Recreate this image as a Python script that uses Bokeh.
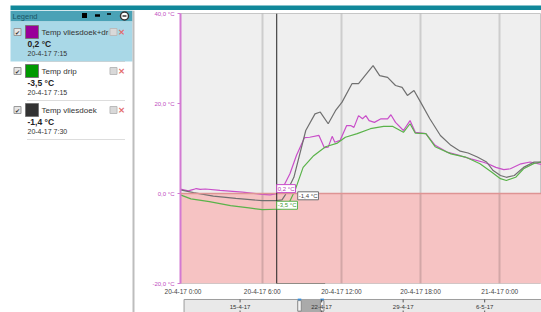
from bokeh.plotting import figure
from bokeh.models import ColumnDataSource, Range1d, FixedTicker, BoxAnnotation, Span, Label
from bokeh.layouts import row, column
from bokeh.embed import file_html
from bokeh.resources import INLINE
from bokeh.core.properties import value

FONT = "Liberation Sans"

# ---------------- data (time = hours after 20-4-17 0:00, values in °C) ----------------
t_vliesdoek_drip = [-0.2, 0.4, 0.8, 1.0, 1.3, 1.7, 2.8, 4.5, 6.0, 6.6,
                    7.0, 7.25, 7.6, 8.1, 8.6, 9.2, 9.6, 10.3, 10.7, 11.0,
                    11.3, 11.5, 11.9, 12.4, 12.7, 12.95, 13.3, 13.6, 13.85, 14.1,
                    14.5, 15.0, 15.5, 15.75, 16.1, 16.7, 17.2, 17.6, 18.4, 19.1,
                    20.0, 21.0, 21.8, 22.7, 23.1, 23.7, 24.3, 24.8, 25.6, 26.3, 27.2]
v_vliesdoek_drip = [1.0, 0.6, 0.9, 1.1, 0.9, 1.0, 0.7, 0.3, -0.2, -0.3,
                    -0.1, 0.2, 1.5, 4.4, 8.5, 12.4, 12.5, 12.9, 10.2, 10.3,
                    12.7, 11.4, 11.8, 15.1, 15.1, 14.7, 17.3, 16.6, 17.3, 16.2,
                    15.8, 16.6, 16.6, 17.5, 15.8, 14.0, 16.2, 13.6, 13.3, 10.7,
                    9.2, 8.4, 7.7, 7.0, 6.6, 5.8, 5.3, 5.5, 6.6, 7.0, 6.4]

t_drip = [-0.2, 0.6, 2.0, 3.6, 5.0, 6.0, 7.1, 7.3, 7.6, 8.0,
          8.5, 9.1, 9.9, 10.8, 11.7, 12.3, 13.2, 14.2, 15.2, 15.9,
          16.7, 17.2, 17.6, 18.4, 19.1, 20.3, 21.4, 22.5, 23.4, 24.05,
          24.5, 25.2, 25.8, 26.6, 27.2]
v_drip = [-0.3, -1.2, -1.8, -2.7, -3.2, -3.6, -3.5, -3.5, -3.2, -2.3,
          0.8, 5.8, 8.4, 10.4, 11.2, 12.5, 13.3, 14.4, 14.9, 14.9,
          13.6, 15.5, 13.4, 13.3, 10.4, 8.8, 8.1, 6.6, 4.7, 3.3,
          2.9, 3.6, 5.5, 6.7, 7.0]

t_vliesdoek = [-0.2, 0.8, 2.3, 4.0, 6.0, 7.1, 7.5, 7.75, 8.4, 9.3,
               10.0, 10.4, 11.0, 11.55, 12.05, 12.8, 13.3, 14.4, 14.9, 15.5,
               16.1, 16.6, 17.0, 17.5, 18.0, 18.7, 19.5, 20.3, 21.0, 21.6,
               22.3, 23.0, 23.5, 24.05, 24.5, 25.1, 25.8, 26.6, 27.2]
v_vliesdoek = [0.8, 0.2, -0.6, -1.1, -1.6, -1.6, -1.4, -0.3, 3.6, 14.0,
               17.7, 18.1, 15.5, 18.4, 20.3, 24.4, 24.4, 28.4, 26.2, 25.8,
               24.0, 23.6, 21.8, 22.9, 20.3, 16.6, 12.9, 10.7, 9.4, 9.0,
               8.1, 7.0, 5.1, 4.0, 3.6, 4.0, 5.8, 7.0, 7.0]

series_names = ["Temp vliesdoek+drip", "Temp drip", "Temp vliesdoek"]
legend_colors = ["#990099", "#009900", "#333333"]
line_colors = ["#c94ec9", "#5ab34a", "#707070"]
last_values = ["0,2 °C", "-3,5 °C", "-1,4 °C"]
last_times = ["20-4-17 7:15", "20-4-17 7:15", "20-4-17 7:30"]

cursor_t = 7.1
cursor_text = "20-apr-2017 7:06"
cursor_values = [0.2, -3.5, -1.4]

x_ticks = [0, 6, 12, 18, 24]
x_tick_labels = ["20-4-17 0:00", "20-4-17 6:00", "20-4-17 12:00", "20-4-17 18:00", "21-4-17 0:00"]
y_ticks = [-20, 0, 20, 40]
y_tick_labels = ["-20,0 °C", "0,0 °C", "20,0 °C", "40,0 °C"]

nav_days = [-5, 2, 9, 16]
nav_labels = ["15-4-17", "22-4-17", "29-4-17", "6-5-17"]
nav_window = [-0.05, 2.2]

# ---------------- top bar ----------------
top = figure(width=541, height=10, x_range=Range1d(0, 541), y_range=Range1d(10, 0),
             output_backend="svg", toolbar_location=None, min_border=0,
             x_axis_type=None, y_axis_type=None)
top.outline_line_color = None
top.background_fill_color = "white"
top.border_fill_color = "white"
top.quad(left=10, right=541, top=3, bottom=8.5, fill_color="#11889a", line_color=None)

# ---------------- main chart ----------------
X0, X1 = -0.19, 27.16
p = figure(width=406, height=288, x_range=Range1d(X0, X1), y_range=Range1d(-20, 40),
           output_backend="svg", toolbar_location=None,
           min_border_left=45, min_border_right=0, min_border_top=3, min_border_bottom=15)
p.background_fill_color = "#efefef"
p.border_fill_color = "white"
p.outline_line_color = "#c6c6c6"

p.add_layout(BoxAnnotation(top=0, fill_color="#f6c3c3", fill_alpha=1, line_color=None, level="image"))

p.ygrid.visible = False
p.xgrid.ticker = FixedTicker(ticks=x_ticks[1:])
p.xgrid.grid_line_color = "black"
p.xgrid.grid_line_alpha = 0.14
p.xgrid.grid_line_width = 2

p.xaxis.ticker = FixedTicker(ticks=x_ticks)
p.xaxis.major_label_overrides = {k: v for k, v in zip(x_ticks, x_tick_labels)}
p.xaxis.axis_line_color = None
p.xaxis.major_tick_line_color = None
p.xaxis.minor_tick_line_color = None
p.xaxis.major_tick_out = 0
p.xaxis.major_tick_in = 0
p.xaxis.major_label_standoff = 4
p.xaxis.major_label_text_font = FONT
p.xaxis.major_label_text_font_size = "6.5px"
p.xaxis.major_label_text_color = "#444444"

p.yaxis.ticker = FixedTicker(ticks=y_ticks)
p.yaxis.major_label_overrides = {k: v for k, v in zip(y_ticks, y_tick_labels)}
p.yaxis.axis_line_color = "#d27ad2"
p.yaxis.axis_line_width = 2
p.yaxis.major_tick_line_color = "#d27ad2"
p.yaxis.major_tick_in = 0
p.yaxis.major_tick_out = 3
p.yaxis.minor_tick_line_color = None
p.yaxis.major_label_standoff = 3
p.yaxis.major_label_text_font = FONT
p.yaxis.major_label_text_font_size = "6px"
p.yaxis.major_label_text_color = "#c04cc0"

p.add_layout(Span(location=0, dimension="width", line_color="#de9494", line_width=1.5))

for t, v, c in [(t_vliesdoek_drip, v_vliesdoek_drip, line_colors[0]),
                (t_drip, v_drip, line_colors[1]),
                (t_vliesdoek, v_vliesdoek, line_colors[2])]:
    p.line(t, v, line_color=c, line_width=1.2)

p.add_layout(Span(location=cursor_t, dimension="height", line_color="#222222", line_width=1))

# cursor value labels
offsets = [0, 0, 21]
text_cols = ["#b23cb2", "#3f9a32", "#444444"]
for val, txt, c, tc, off in zip(cursor_values, last_values, line_colors, text_cols, offsets):
    p.add_layout(Label(x=cursor_t, y=val, x_offset=off, text=txt, anchor="bottom_left",
                       text_font=FONT, text_font_size="6px", text_color=tc,
                       background_fill_color="white", border_line_color=c, padding=1))
p.add_layout(Label(x=cursor_t, y=-20, text=cursor_text, anchor="top_left",
                   text_font=FONT, text_font_size="6px", text_color="#333333",
                   background_fill_color="#ffffcc", border_line_color="#444444", padding=1))
for yy in (40, -20):
    p.add_layout(Label(x=X0, y=yy, x_offset=-38, text="▪" if yy == 40 else "▴", anchor="center_left",
                       text_font="DejaVu Sans", text_font_size="5px", text_color="#555555",
                       background_fill_color="#e2e2e2", border_line_color="#bdbdbd", padding=1))

# ---------------- navigator ----------------
NPX = 13.1          # px per day
N0 = 267.5 - 135    # px of day 0 inside navigator figure
nav = figure(width=406, height=14, x_range=Range1d(-N0 / NPX, (406 - N0) / NPX), y_range=Range1d(0, 1),
             output_backend="svg", toolbar_location=None, min_border=0,
             x_axis_type=None, y_axis_type=None)
nav.outline_line_color = None
nav.background_fill_color = "white"
nav.border_fill_color = "white"
nav.quad(left=(4 - N0) / NPX, right=(406 - N0) / NPX, bottom=0, top=0.93,
         fill_color="#e9e9e9", line_color="#9c9c9c")
nav.quad(left=nav_window[0], right=nav_window[1], bottom=0, top=0.93, fill_color="#aaaaaa", line_color=None)
for edge, d in zip(nav_window, (1, -1)):
    nav.quad(left=edge, right=edge + d * 4 / NPX, bottom=0.1, top=0.85, fill_color="#f2f2f2", line_color="#8a8a8a")
    nav.segment(x0=edge, x1=edge + d * 4 / NPX, y0=0.95, y1=0.95, line_color="#3b8fd8", line_width=2)
nsrc = ColumnDataSource(dict(x=nav_days, text=nav_labels))
nav.segment(x0="x", x1="x", y0=0.93, y1=0.72, line_color="#555555", source=nsrc)
nav.segment(x0="x", x1="x", y0=0.14, y1=0.0, line_color="#555555", source=nsrc)
nav.text(x="x", y=0.42, text="text", source=nsrc, text_font=value(FONT), text_font_size="6px",
         text_align="center", text_baseline="middle", text_color="#333333")

# ---------------- legend panel ----------------
lg = figure(width=135, height=302, x_range=Range1d(0, 135), y_range=Range1d(312, 10),
            output_backend="svg", toolbar_location=None, min_border=0,
            x_axis_type=None, y_axis_type=None)
lg.outline_line_color = None
lg.background_fill_color = "white"
lg.border_fill_color = "white"

lg.quad(left=10, right=132, top=10, bottom=21, fill_color="#4aa2b6", line_color=None)
lg.quad(left=10, right=132, top=21, bottom=61, fill_color="#a9d8e7", line_color=None)
lg.segment(x0=133, x1=133, y0=10, y1=312, line_color="#bdbdbd", line_width=2)
lg.text(x=12, y=15.5, text=["Legend"], text_font=value(FONT), text_font_size="7.5px",
        text_baseline="middle", text_color="#1a5666")
lg.rect(x=84, y=15, width=5, height=5, fill_color="black", line_color=None)
lg.rect(x=97, y=15, width=5, height=2.5, fill_color="black", line_color=None)
lg.rect(x=108.5, y=13.5, width=4, height=1.5, fill_color="black", line_color=None)
lg.scatter(x=124, y=15.5, size=8, marker="circle", fill_color="white", line_color="#333333", line_width=1.5)
lg.rect(x=124, y=15.5, width=4, height=1.5, fill_color="#333333", line_color=None)

ROW0, STEP = 31.5, 39
ys = [ROW0 + STEP * i for i in range(len(series_names))]
leg = ColumnDataSource(dict(
    y=ys, name=series_names, color=legend_colors, val=last_values, ts=last_times,
    bg=["#a9d8e7"] + ["white"] * (len(series_names) - 1),
    yv=[y + 12 for y in ys], yt=[y + 21 for y in ys], ysep=[y + 29.5 for y in ys],
    ytop=[y - 6 for y in ys], ybot=[y + 6 for y in ys]))

lg.rect(x=17, y="y", width=7, height=7, fill_color="#e6e6e6", line_color="#9a9a9a", source=leg)
lg.text(x=17, y="y", text=value("✔"), source=leg, text_font=value("DejaVu Sans"), text_font_size="6px",
        text_align="center", text_baseline="middle", text_color="#333333")
lg.rect(x=31.5, y="y", width=13, height=13, fill_color="color", line_color="#777777", source=leg)
lg.text(x=41, y="y", text="name", source=leg, text_font=value(FONT), text_font_size="8px",
        text_baseline="middle", text_color="#333333")
lg.quad(left=108, right=126, top="ytop", bottom="ybot", fill_color="bg", line_color=None, source=leg)
lg.rect(x=113, y="y", width=7, height=7, fill_color="#d9d9d9", line_color="#bbbbbb", source=leg)
lg.text(x=121, y="y", text=value("×"), source=leg, text_font=value("DejaVu Sans"), text_font_size="9px",
        text_align="center", text_baseline="middle", text_color="#e36a6a", text_font_style="bold")
lg.text(x=27, y="yv", text="val", source=leg, text_font=value(FONT), text_font_size="8.5px",
        text_font_style="bold", text_baseline="middle", text_color="#222222")
lg.text(x=27, y="yt", text="ts", source=leg, text_font=value(FONT), text_font_size="7px",
        text_baseline="middle", text_color="#333333")
lg.segment(x0=27, x1=124, y0="ysep", y1="ysep", line_dash="1 1", line_color="#bbbbbb", source=leg)

layout = column(top, row(lg, column(p, nav)))
open("out.html", "w").write(file_html(layout, INLINE))
